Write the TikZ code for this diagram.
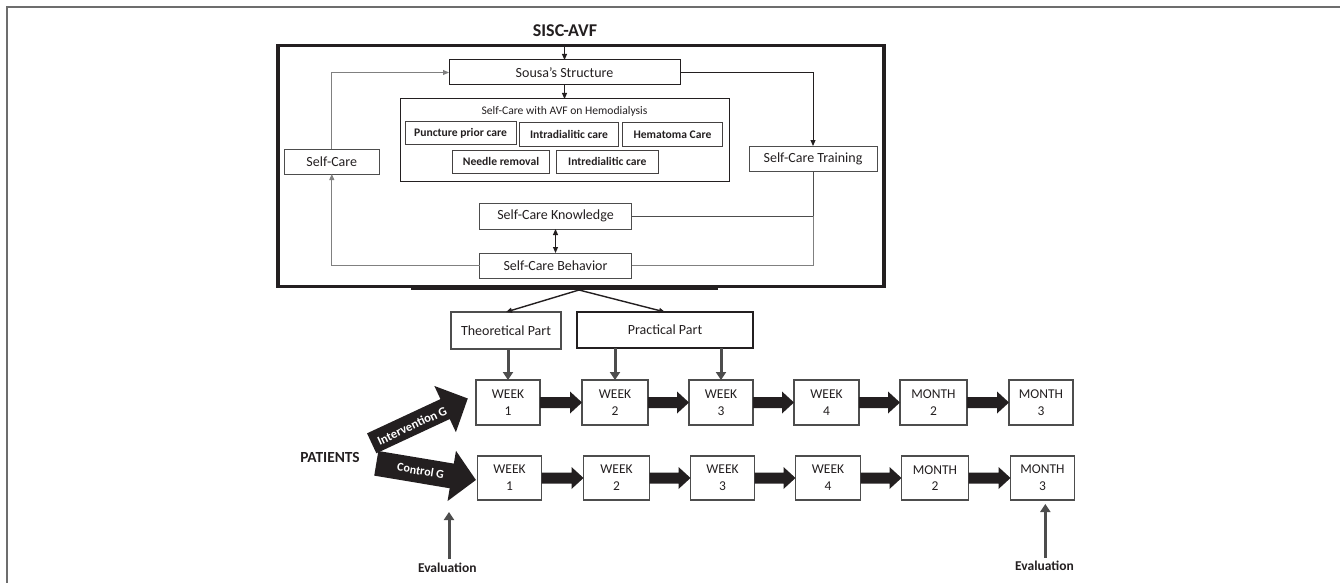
\documentclass[tikz,border=0pt]{standalone}
\usepackage{fontspec}
\setmainfont{Carlito}
\usetikzlibrary{arrows.meta,calc}
\definecolor{ink}{HTML}{231F20}
\definecolor{gline}{HTML}{808080}
\definecolor{darkg}{HTML}{4D4D4D}
\definecolor{frameg}{HTML}{6D6D6D}
\newcommand{\barrow}[2]{%
  \fill[ink] ($(#1.east)+(0,-5.5)$) -- ($(#2.west)+(-12,-5.5)$) -- ($(#2.west)+(-12,-11)$) -- (#2.west)
   -- ($(#2.west)+(-12,11)$) -- ($(#2.west)+(-12,5.5)$) -- ($(#1.east)+(0,5.5)$) -- cycle;}
\begin{document}
\begin{tikzpicture}[x=1pt,y=-1pt,
  t14/.style={font=\fontsize{14}{16}\selectfont},
  box/.style={draw=ink, line width=1pt, inner sep=0pt, outer sep=0pt, align=center, text=ink},
  mbox/.style={box, t14},
  ibox/.style={box, draw=ink!85, font=\fontsize{11.6}{13}\selectfont\bfseries},
  wbox/.style={box, draw=darkg, line width=1.2pt, font=\fontsize{13.5}{16.7}\selectfont},
  tip/.style={-{Triangle[length=6pt,width=5pt]}},
  garrow/.style={darkg, line width=3pt, -{Triangle[length=8pt,width=10pt]}},
  bold/.style={font=\fontsize{#1}{#1}\selectfont\bfseries, text=ink}
]
\useasboundingbox (0,0) rectangle (1340,583);
\draw[frameg, line width=1.6pt] (7,583) -- (7,7) -- (1340,7);

% ---- upper model ----
\node[bold=18] (title) at (565,31) {SISC-AVF};
\node[draw=ink, line width=3.5pt, minimum width=606, minimum height=240.5, inner sep=0pt, outer sep=0pt] (frame) at (581,166) {};
\draw[ink, line width=2.2pt] (411,288.6) -- (718,288.6);

\node[mbox, minimum width=231, minimum height=25] (sousa) at (564.5,72.5) {Sousa’s Structure};
\node[box, minimum width=329, minimum height=82] (avf) at (564.5,140) {};
\node[font=\fontsize{11.6}{13}\selectfont, text=ink] (avft) at (564.5,111) {Self-Care with AVF on Hemodialysis};
\node[ibox, minimum width=111, minimum height=22] (punct) at (460.5,133) {Puncture prior care};
\node[ibox, minimum width=98.6, minimum height=23] (intra) at (569,134.5) {Intradialitic care};
\node[ibox, minimum width=100, minimum height=23] (hema) at (672.5,134.5) {Hematoma Care};
\node[ibox, minimum width=97, minimum height=23] (needle) at (501,161.5) {Needle removal};
\node[ibox, minimum width=102, minimum height=23] (intred) at (607.3,161.5) {Intredialitic care};
\node[mbox, draw=darkg, minimum width=95, minimum height=25] (selfcare) at (331.8,161.5) {Self-Care};
\node[mbox, draw=darkg, minimum width=128, minimum height=25] (train) at (813,158.5) {Self-Care Training};
\node[mbox, draw=darkg, minimum width=152, minimum height=26] (know) at (555.5,216) {Self-Care Knowledge};
\node[mbox, draw=darkg, minimum width=152, minimum height=25] (behav) at (555.5,265.5) {Self-Care Behavior};

\draw[ink, line width=0.9pt, tip] (sousa.north |- frame.north) -- (sousa.north);
\draw[ink, line width=0.9pt, tip] (sousa.south) -- (avf.north);
\draw[gline, line width=0.9pt, tip] (selfcare.north) |- (sousa.west);
\draw[ink, line width=1pt, tip] (sousa.east) -| (train.north);
\draw[gline, line width=0.9pt, tip] (behav.west) -| (selfcare.south);
\draw[ink, line width=0.9pt, {Triangle[length=6pt,width=5pt]}-{Triangle[length=6pt,width=5pt]}] (know.south) -- (behav.north);
\draw[darkg, line width=0.9pt] (train.south) |- (know.east);
\draw[gline, line width=0.9pt] (train.south |- know.east) |- (behav.east);

% ---- parts ----
\coordinate (apex) at (579,290);
\node[box, draw=darkg, line width=2.6pt, t14, minimum width=110, minimum height=37] (theory) at (506,330.5) {Theoretical Part};
\node[box, line width=1.8pt, t14, minimum width=176, minimum height=36] (pract) at (665,330) {Practical Part};
\draw[ink, line width=1.4pt, tip] (apex) -- (theory.north);
\draw[ink, line width=1.4pt, tip] (apex) -- (pract.north);

% ---- timeline ----
\node[wbox, minimum width=64, minimum height=45] (a1) at (508,402.5) {WEEK\\1};
\node[wbox, minimum width=66, minimum height=45] (a2) at (615,402.5) {WEEK\\2};
\node[wbox, minimum width=64, minimum height=45] (a3) at (721,402.5) {WEEK\\3};
\node[wbox, minimum width=65, minimum height=45] (a4) at (826.5,402.5) {WEEK\\4};
\node[wbox, minimum width=67, minimum height=45] (a5) at (933.5,402.5) {MONTH\\2};
\node[wbox, minimum width=64, minimum height=45] (a6) at (1041,402.5) {MONTH\\3};

\node[wbox, minimum width=64, minimum height=44] (b1) at (509.5,478) {WEEK\\1};
\node[wbox, minimum width=66, minimum height=44] (b2) at (616.5,478) {WEEK\\2};
\node[wbox, minimum width=64, minimum height=44] (b3) at (722.5,478) {WEEK\\3};
\node[wbox, minimum width=65, minimum height=44] (b4) at (828,478) {WEEK\\4};
\node[wbox, minimum width=67, minimum height=44] (b5) at (935,478) {MONTH\\2};
\node[wbox, minimum width=64, minimum height=44] (b6) at (1042.5,478) {MONTH\\3};

\barrow{a1}{a2}\barrow{a2}{a3}\barrow{a3}{a4}\barrow{a4}{a5}\barrow{a5}{a6}
\barrow{b1}{b2}\barrow{b2}{b3}\barrow{b3}{b4}\barrow{b4}{b5}\barrow{b5}{b6}

\draw[garrow] (a1.north |- theory.south) -- (a1.north);
\draw[garrow] (a2.north |- pract.south) -- (a2.north);
\draw[garrow] (a3.north |- pract.south) -- (a3.north);

% ---- group arrows ----
\begin{scope}[shift={(371.7,443.3)}, rotate=25]
  \fill[ink] (0,-11) -- (81,-11) -- (81,-25.5) -- (106,0) -- (81,25.5) -- (81,11) -- (0,11) -- cycle;
  \node[transform shape, text=white, font=\fontsize{12.5}{14}\selectfont\bfseries] (intv) at (44,1) {Intervention G};
\end{scope}
\begin{scope}[shift={(376.3,463.3)}, rotate=-9.5]
  \fill[ink] (0,-12.5) -- (76.5,-12.5) -- (76.5,-25.5) -- (101,0) -- (76.5,25.5) -- (76.5,12.5) -- (0,12.5) -- cycle;
  \node[transform shape, text=white, font=\fontsize{12}{14}\selectfont\bfseries] (ctrl) at (45,0) {Control G};
\end{scope}

\node[bold=15.4] (patients) at (330,457.7) {PATIENTS};

\node[bold=13.5] (ev1) at (447.3,567.3) {Evaluation};
\node[bold=13.5] (ev2) at (1044.5,566) {Evaluation};
\coordinate (ev1t) at (449,512);
\coordinate (ev2t) at (1045.3,504);
\draw[garrow] (ev1t |- ev1.north) -- (ev1t);
\draw[garrow] (ev2t |- ev2.north) -- (ev2t);
\end{tikzpicture}
\end{document}
